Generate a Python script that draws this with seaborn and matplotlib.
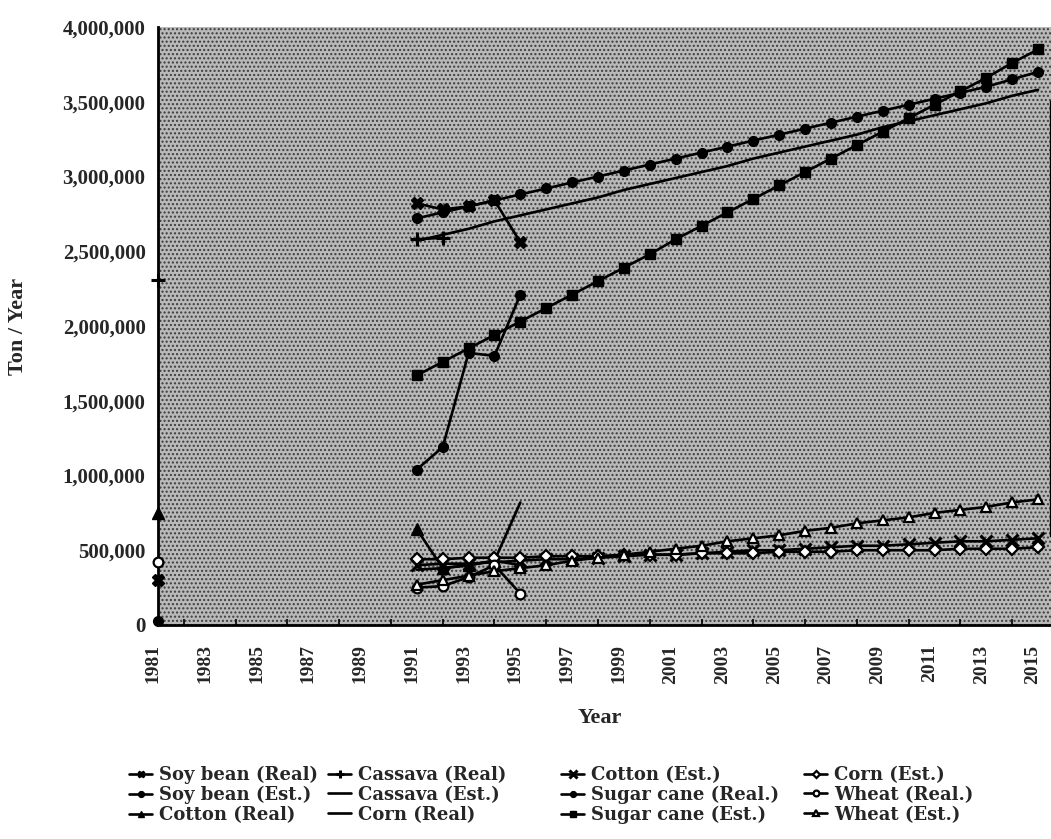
import numpy as np
import pandas as pd
import matplotlib
matplotlib.use("Agg")
import matplotlib.pyplot as plt
import matplotlib.transforms as mtransforms
import seaborn as sns
from matplotlib.ticker import FuncFormatter, MultipleLocator

# ---------------- data (tons / year) ----------------
years_est = list(range(1991, 2016))
years_real = [1991, 1992, 1993, 1994, 1995]
year_first = 1981

soy_real = [2820000, 2780000, 2800000, 2840000, 2560000]
soy_real_1981 = 300000
soy_est = [2720000, 2760000, 2800000, 2840000, 2880000, 2920000, 2960000, 3000000,
           3040000, 3080000, 3120000, 3160000, 3200000, 3240000, 3280000, 3320000,
           3360000, 3400000, 3440000, 3480000, 3520000, 3560000, 3600000, 3650000, 3700000]

cotton_real = [640000, 380000, 400000, 430000, 400000]
cotton_real_1981 = 750000
cotton_est = [400000, 410000, 410000, 420000, 430000, 440000, 440000, 450000,
              460000, 470000, 470000, 480000, 490000, 500000, 500000, 510000,
              520000, 530000, 530000, 540000, 550000, 560000, 560000, 570000, 580000]

cassava_real = [2580000, 2590000, np.nan, np.nan, np.nan]
cassava_real_1981 = 2310000
cassava_est = [2570000, 2610000, 2650000, 2700000, 2740000, 2780000, 2820000, 2860000,
               2910000, 2950000, 2990000, 3030000, 3070000, 3120000, 3160000, 3200000,
               3240000, 3280000, 3330000, 3370000, 3410000, 3450000, 3490000, 3540000, 3580000]

corn_real = [370000, 380000, 400000, 430000, 820000]
corn_est = [440000, 440000, 450000, 450000, 450000, 460000, 460000, 460000,
            470000, 470000, 470000, 480000, 480000, 480000, 490000, 490000,
            490000, 500000, 500000, 500000, 500000, 510000, 510000, 510000, 520000]

sugar_real = [1040000, 1190000, 1820000, 1800000, 2210000]
sugar_real_1981 = 30000
sugar_est = [1670000, 1760000, 1850000, 1940000, 2030000, 2120000, 2210000, 2300000,
             2390000, 2480000, 2580000, 2670000, 2760000, 2850000, 2940000, 3030000,
             3120000, 3210000, 3300000, 3390000, 3480000, 3570000, 3660000, 3760000, 3850000]

wheat_real = [250000, 260000, 320000, 400000, 210000]
wheat_real_1981 = 420000
wheat_est = [270000, 300000, 330000, 360000, 380000, 400000, 430000, 450000,
             470000, 490000, 510000, 530000, 560000, 580000, 600000, 630000,
             650000, 680000, 700000, 720000, 750000, 770000, 790000, 820000, 840000]

tick_years = list(range(1981, 2016, 2))

# ---------------- styling ----------------
sns.set_theme(style="white")
plt.rcParams["font.family"] = ["Liberation Serif", "DejaVu Serif"]
plt.rcParams["hatch.linewidth"] = 1.0

fig = plt.figure(figsize=(10.51, 8.39), dpi=100)
ax = fig.add_axes([158 / 1051, 1 - 625 / 839, 1 - 158 / 1051, (625 - 27) / 839])
ax.set_facecolor("#b9b9b9")
ax.patch.set_edgecolor("#3c3c3c")
ax.patch.set_linewidth(0)
ax.patch.set_hatch("....")

K = "black"
W = "white"

# (label, years, values, 1981 value, marker, size, facecolor, mew)
series = [
    ("Soy bean (Real)", years_real, soy_real, soy_real_1981, "X", 8, K, 1.0),
    ("Soy bean (Est.)", years_est, soy_est, None, "o", 7, K, 1.0),
    ("Cotton (Real)", years_real, cotton_real, cotton_real_1981, "^", 8, K, 1.0),
    ("Cassava (Real)", years_real, cassava_real, cassava_real_1981, "+", 10, K, 2.2),
    ("Cassava (Est.)", years_est, cassava_est, None, None, 0, K, 1.0),
    ("Corn (Real)", years_real, corn_real, None, None, 0, K, 1.0),
    ("Cotton (Est.)", years_est, cotton_est, None, "x", 9, K, 2.2),
    ("Sugar cane (Real.)", years_real, sugar_real, sugar_real_1981, "o", 7, K, 1.0),
    ("Sugar cane (Est.)", years_est, sugar_est, None, "s", 7, K, 1.0),
    ("Corn (Est.)", years_est, corn_est, None, "D", 6, W, 1.6),
    ("Wheat (Real.)", years_real, wheat_real, wheat_real_1981, "o", 7, W, 1.6),
    ("Wheat (Est.)", years_est, wheat_est, None, "^", 7, W, 1.6),
]

for label, yrs, vals, v81, mk, ms, fc, mew in series:
    df = pd.DataFrame({"Year": yrs, "Value": vals}).dropna()
    sns.lineplot(data=df, x="Year", y="Value", ax=ax, color=K, linewidth=1.9,
                 marker=mk if mk else None, markersize=ms, markerfacecolor=fc,
                 markeredgecolor=K, markeredgewidth=mew, label=label,
                 clip_on=False if mk else True)
    if v81 is not None:
        d81 = pd.DataFrame({"Year": [year_first], "Value": [v81]})
        ax.plot(d81["Year"], d81["Value"], linestyle="none", marker=mk,
                markersize=ms, markerfacecolor=fc, markeredgecolor=K,
                markeredgewidth=mew, clip_on=False, zorder=5)

ax.set_xlim(1981, 2015.5)
ax.set_ylim(0, 4000000)
ax.yaxis.set_major_locator(MultipleLocator(500000))
ax.yaxis.set_major_formatter(FuncFormatter(lambda v, p: f"{int(v):,}"))
ax.set_xticks(tick_years)
ax.xaxis.set_minor_locator(MultipleLocator(1))
ax.tick_params(axis="both", which="both", direction="in", color=K)
ax.tick_params(axis="y", which="major", length=6, width=1.5, pad=9)
ax.tick_params(axis="x", which="major", length=6, width=1.5, pad=14)
ax.tick_params(axis="x", which="minor", length=4, width=1.2, bottom=True)
ax.set_xticklabels([str(y) for y in tick_years], rotation=90, fontsize=14,
                   fontweight="bold")
for t in ax.get_yticklabels():
    t.set_fontsize(15)
    t.set_fontweight("bold")
shift = mtransforms.ScaledTranslation(-5 / 100, 0, fig.dpi_scale_trans)
for tk in ax.xaxis.get_major_ticks():
    tk.label1.set_transform(tk.label1.get_transform() + shift)

ax.spines["top"].set_visible(False)
for s in ["left", "bottom"]:
    ax.spines[s].set_color(K)
    ax.spines[s].set_linewidth(2.0)
ax.spines["right"].set_color(K)
ax.spines["right"].set_linewidth(2.4)
ax.spines["right"].set_bounds(600000, 3500000)

ax.set_xlabel("Year", fontsize=16, fontweight="bold")
ax.set_ylabel("Ton / Year", fontsize=16, fontweight="bold")
ax.xaxis.set_label_coords((600 - 158) / 893, (625 - 708) / 598)
ax.yaxis.set_label_coords((28 - 158) / 893, 0.5)

# legend: four columns placed like the original
handles, labels = ax.get_legend_handles_labels()
col_x = [129, 328, 561, 804]
for c in range(4):
    fig.legend(handles[3 * c:3 * c + 3], labels[3 * c:3 * c + 3], ncol=1,
               frameon=False, loc="upper left",
               bbox_to_anchor=(col_x[c] / 1051, 1 - 766 / 839),
               prop={"family": "DejaVu Serif", "weight": "bold", "size": 13},
               labelspacing=0.1, handlelength=1.3, handletextpad=0.35,
               borderpad=0.0, borderaxespad=0.0, markerscale=0.6)
if ax.get_legend() is not None:
    ax.get_legend().remove()

fig.savefig("out.png", dpi=100)
